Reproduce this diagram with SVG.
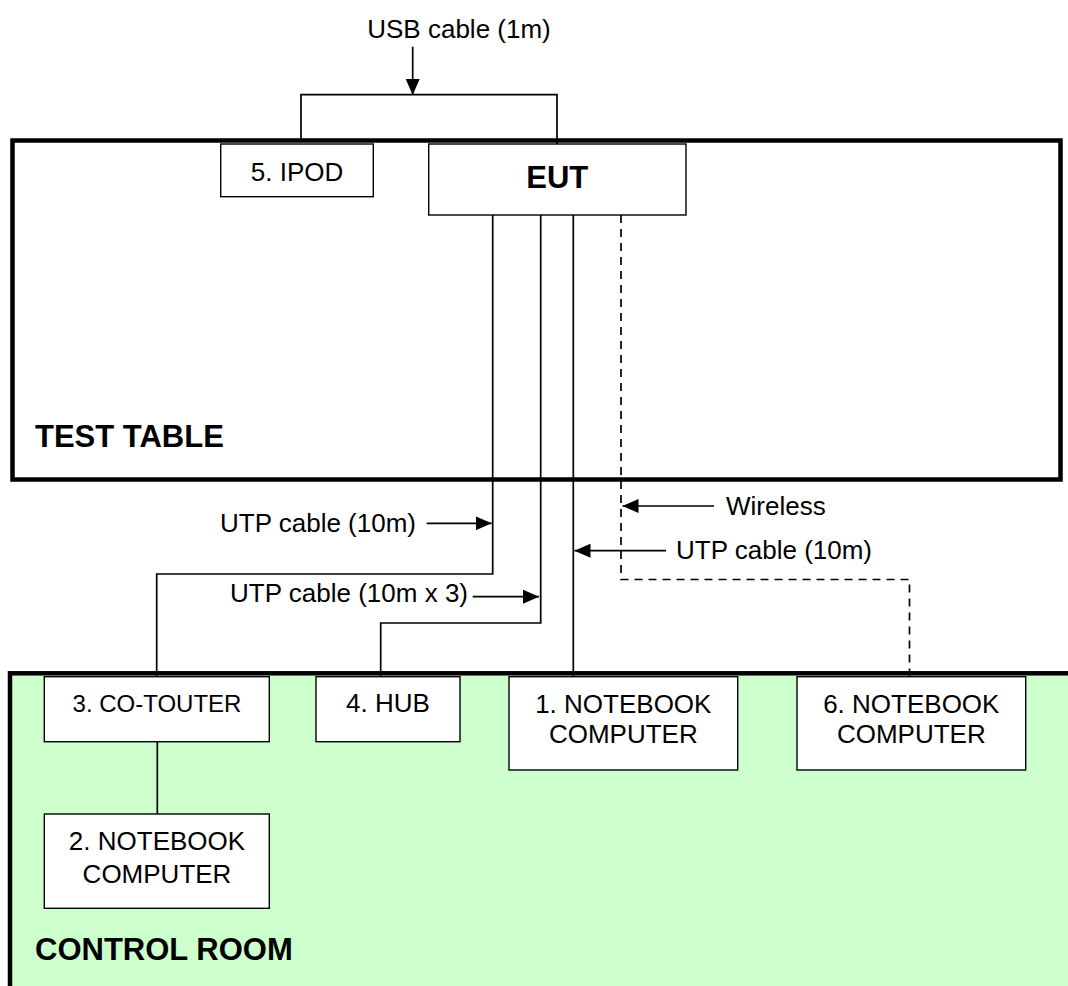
<svg xmlns="http://www.w3.org/2000/svg" width="1068" height="986" viewBox="0 0 1068 986">
<defs>
<style>
text{font-family:"Liberation Sans",Arial,sans-serif;fill:#000}
.lbl{font-size:26px}
.bold{font-size:31px;font-weight:bold}
.box{fill:#fff;stroke:#000;stroke-width:1.4}
.area{stroke:#000;stroke-width:4.5}
.wire{fill:none;stroke:#000;stroke-width:1.7}
.dash{fill:none;stroke:#000;stroke-width:1.7;stroke-dasharray:8 6}
.arr{fill:none;stroke:#000;stroke-width:1.7;marker-end:url(#ah)}
</style>
<marker id="ah" markerUnits="userSpaceOnUse" markerWidth="16" markerHeight="14" refX="16" refY="7" orient="auto">
<path d="M0,0 L16,7 L0,14 z" fill="#000"/>
</marker>
</defs>
<rect width="1068" height="986" fill="#fff"/>
<g id="test-table">
<rect class="area" x="12.5" y="140.5" width="1048" height="339" fill="#fff"/>
<text class="bold" x="35" y="447">TEST TABLE</text>
</g>
<g id="control-room">
<rect class="area" x="10" y="673.3" width="1075" height="400" fill="#CCFFCC"/>
<text class="bold" x="35" y="960">CONTROL ROOM</text>
</g>
<g id="connectors">
<path class="wire" d="M301,142 V94.7 H557 V144"/>
<line class="arr" x1="412.7" y1="46.7" x2="412.7" y2="95"/>
<path class="wire" d="M492.7,215 V574 H156.7 V677"/>
<path class="wire" d="M540.7,215 V623 H380.7 V677"/>
<path class="wire" d="M573.3,215 V677"/>
<path class="dash" d="M621,215 V579.5 H909.5 V677"/>
<line class="wire" x1="157.3" y1="741.7" x2="157.3" y2="814"/>
<line class="arr" x1="426.7" y1="523.3" x2="491.7" y2="523.3"/>
<line class="arr" x1="472.7" y1="596.7" x2="539" y2="596.7"/>
<line class="arr" x1="714" y1="506" x2="622.5" y2="506"/>
<line class="arr" x1="666" y1="550.7" x2="574.5" y2="550.7"/>
<text class="lbl" x="459" y="38" text-anchor="middle">USB cable (1m)</text>
<text class="lbl" x="416" y="532" text-anchor="end">UTP cable (10m)</text>
<text class="lbl" x="468" y="602" text-anchor="end">UTP cable (10m x 3)</text>
<text class="lbl" x="726" y="515">Wireless</text>
<text class="lbl" x="676" y="559">UTP cable (10m)</text>
</g>
<g id="ipod">
<rect class="box" x="220.7" y="144" width="152.6" height="52.7"/>
<text class="lbl" x="297" y="181" text-anchor="middle">5. IPOD</text>
</g>
<g id="eut">
<rect class="box" x="428.7" y="144" width="257.3" height="71"/>
<text class="bold" x="557.3" y="188" text-anchor="middle">EUT</text>
</g>
<g id="co-touter">
<rect class="box" x="44.3" y="676.7" width="225" height="65"/>
<text class="lbl" x="157" y="711.7" text-anchor="middle" style="font-size:24px">3. CO-TOUTER</text>
</g>
<g id="hub">
<rect class="box" x="316" y="676.7" width="144" height="65"/>
<text class="lbl" x="388" y="711.7" text-anchor="middle">4. HUB</text>
</g>
<g id="notebook-1">
<rect class="box" x="509" y="676.7" width="228.7" height="93.3"/>
<text class="lbl" x="623.3" y="712.7" text-anchor="middle">1. NOTEBOOK</text>
<text class="lbl" x="623.3" y="742.7" text-anchor="middle">COMPUTER</text>
</g>
<g id="notebook-6">
<rect class="box" x="797" y="676.7" width="228.7" height="93.3"/>
<text class="lbl" x="911.3" y="712.7" text-anchor="middle">6. NOTEBOOK</text>
<text class="lbl" x="911.3" y="742.7" text-anchor="middle">COMPUTER</text>
</g>
<g id="notebook-2">
<rect class="box" x="44.3" y="814" width="225" height="94.3"/>
<text class="lbl" x="157" y="850" text-anchor="middle">2. NOTEBOOK</text>
<text class="lbl" x="157" y="883.3" text-anchor="middle">COMPUTER</text>
</g>
</svg>
